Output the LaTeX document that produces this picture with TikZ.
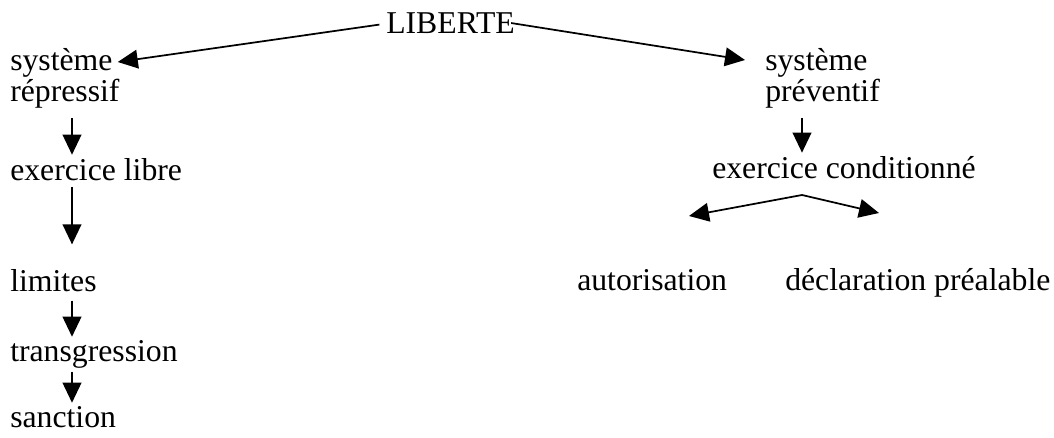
\documentclass[tikz,border=0pt]{standalone}
\usepackage{fontspec}
\setmainfont{Liberation Serif}
\usetikzlibrary{arrows.meta,calc}

\begin{document}
\begin{tikzpicture}[x=0.75pt,y=-0.75pt,
  every node/.style={inner sep=0pt,anchor=base west,
    font=\fontsize{23.8}{24}\selectfont},
  link/.style={line width=1.3pt,-{Triangle[length=15pt,width=14pt]},
    shorten <=0pt,shorten >=0pt}
]
\useasboundingbox (0,0) rectangle (1054,438);

% the top
\node (lib) at (386,34) {LIBERTE};

% the repressive side
\node (sysr) at (10,71) {système};
\node (rep) at (10,102) {répressif};
\node (exlib) at (10,181) {exercice libre};
\node (lim) at (10,292) {limites};
\node (trans) at (10,362) {transgression};
\node (sanc) at (10,428) {sanction};
\coordinate (colL) at (72,0);

% the preventive side
\node (sysp) at (765,71) {système};
\node (prev) at (765,102) {préventif};
\node (excond) at (712,179) {exercice conditionné};
\node (auto) at (577,291) {autorisation};
\node (decl) at (785,291) {déclaration préalable};
\coordinate (colR) at (802,0);
\coordinate (fork) at (802,195);
\coordinate (forkA) at (689,216);
\coordinate (forkD) at (879,213);

% the edges
\draw [link,shorten <=5pt] (lib.west) -- ($(sysr.base east)+(5,-9)$);
\draw [link,shorten <=-3pt] (lib.east) -- ($(sysp.base west)+(-20,-11)$);
\draw [link,shorten <=7pt,shorten >=3pt] (rep.south -| colL) -- (exlib.north -| colL);
\draw [link,shorten <=4pt,shorten >=19pt] (exlib.south -| colL) -- (lim.north -| colL);
\draw [link,shorten <=6pt,shorten >=3pt] (lim.south -| colL) -- (trans.north -| colL);
\draw [link,shorten <=2pt,shorten >=3pt] (trans.south -| colL) -- (sanc.north -| colL);
\draw [link,shorten <=7pt,shorten >=3pt] (prev.south -| colR) -- (excond.north -| colR);
\draw [link] (fork) -- (forkA);
\draw [link] (fork) -- (forkD);
\end{tikzpicture}
\end{document}
